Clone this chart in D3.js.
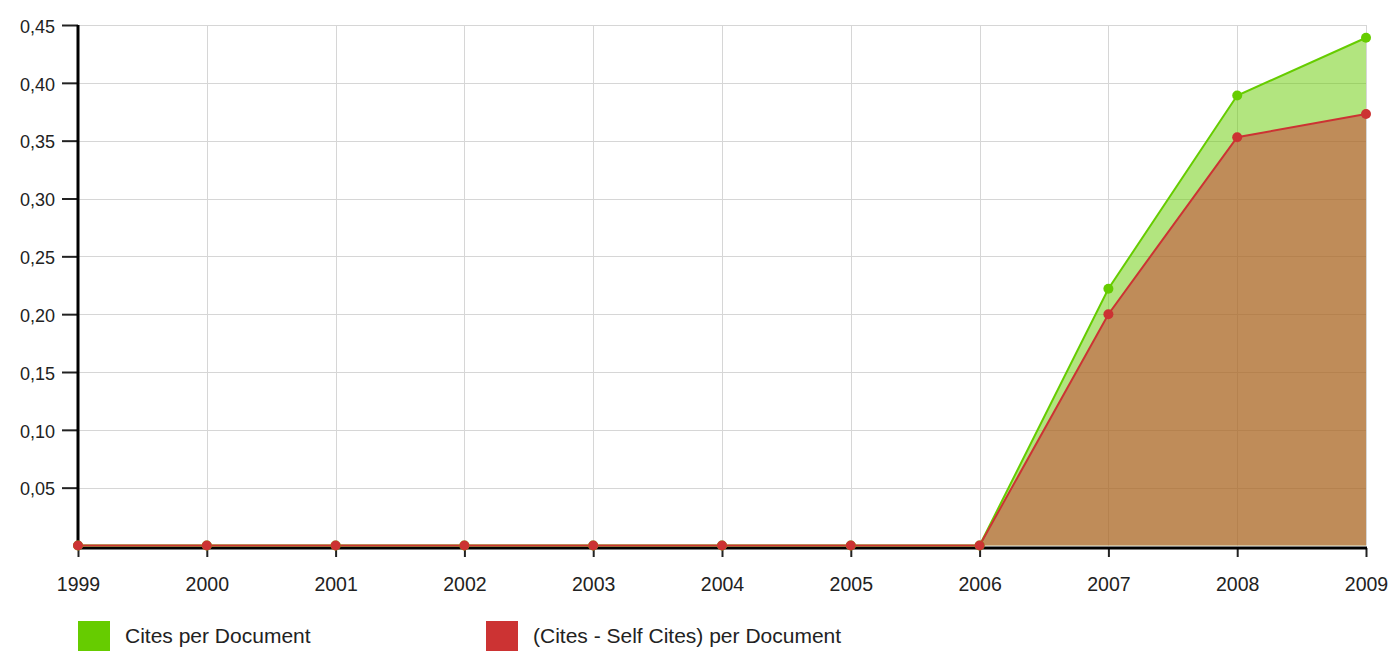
<!DOCTYPE html>
<html><head><meta charset="utf-8">
<script src="https://cdn.jsdelivr.net/npm/d3@7"></script>
<style>body{margin:0;background:#fff;}svg{display:block;font-family:"Liberation Sans",Arial,sans-serif;}</style>
</head><body>
<svg id="c" width="1393" height="651"></svg>
<script>
const years = [1999,2000,2001,2002,2003,2004,2005,2006,2007,2008,2009];
const citesPerDoc = [0,0,0,0,0,0,0,0,0.222,0.389,0.439];
const nonSelfCitesPerDoc = [0,0,0,0,0,0,0,0,0.200,0.353,0.373];
const yTicks = [0.05,0.10,0.15,0.20,0.25,0.30,0.35,0.40,0.45];
const seriesNames = ["Cites per Document","(Cites - Self Cites) per Document"];
const colors = ["#66cc00","#cc3333"];

const svg = d3.select("#c");
const L=78, R=1366, T=25, B=545.5;
const x = d3.scaleLinear().domain([1999,2009]).range([L,R]);
const y = d3.scaleLinear().domain([0,0.45]).range([B,T]);
const fmt = d => d3.format(".2f")(d).replace(".",",");
const FONT = "Liberation Sans, Arial, sans-serif";

// grid
const g = svg.append("g");
g.selectAll("line.v").data(years).join("line").attr("x1",d=>Math.round(x(d))+0.5).attr("x2",d=>Math.round(x(d))+0.5).attr("y1",T).attr("y2",B).attr("stroke","#d6d6d6").attr("stroke-width",1);
g.selectAll("line.h").data(yTicks).join("line").attr("x1",L).attr("x2",R).attr("y1",d=>Math.round(y(d))+0.5).attr("y2",d=>Math.round(y(d))+0.5).attr("stroke","#d6d6d6").attr("stroke-width",1);

// axes
const ya = svg.append("g").attr("transform",`translate(${L},0)`)
  .call(d3.axisLeft(y).tickValues(yTicks).tickFormat(fmt).tickSize(16).tickPadding(7));
ya.select(".domain").remove();
ya.selectAll(".tick line").attr("stroke","#222").attr("stroke-width",2);
ya.selectAll("text").attr("font-size",18).attr("fill","#222").attr("font-family",FONT).attr("dy","0.4em");
svg.append("line").attr("x1",L).attr("x2",L).attr("y1",T).attr("y2",549).attr("stroke","#000").attr("stroke-width",3);

const xa = svg.append("g").attr("transform",`translate(0,548)`)
  .call(d3.axisBottom(x).tickValues(years).tickFormat(d3.format("d")).tickSize(9).tickPadding(20));
xa.select(".domain").remove();
xa.selectAll(".tick line").attr("stroke","#222").attr("stroke-width",2);
xa.selectAll("text").attr("font-size",19.5).attr("fill","#222").attr("font-family",FONT);
svg.append("line").attr("x1",L-1.5).attr("x2",R+1).attr("y1",548).attr("y2",548).attr("stroke","#000").attr("stroke-width",3);

const series = [citesPerDoc, nonSelfCitesPerDoc];
const area = d3.area().x((d,i)=>x(years[i])).y0(y(0)).y1(d=>y(d));
const line = d3.line().x((d,i)=>x(years[i])).y(d=>y(d));
series.forEach((s,k)=>{
  svg.append("path").attr("d",area(s)).attr("fill",colors[k]).attr("fill-opacity",0.5);
});
series.forEach((s,k)=>{
  svg.append("path").attr("d",line(s)).attr("fill","none").attr("stroke",colors[k]).attr("stroke-width",2);
});

// dots
series.forEach((s,k)=>{
  svg.append("g").selectAll("circle").data(s).join("circle")
    .attr("cx",(d,i)=>x(years[i])).attr("cy",d=>y(d)).attr("r",5).attr("fill",colors[k]);
});

// legend
const lx = [78,486];
seriesNames.forEach((n,k)=>{
  svg.append("rect").attr("x",lx[k]).attr("y",621).attr("width",32).attr("height",32).attr("fill",colors[k]);
  svg.append("text").attr("x",lx[k]+47).attr("y",643).attr("font-size",21).attr("fill","#222").text(n);
});
</script>
</body></html>
